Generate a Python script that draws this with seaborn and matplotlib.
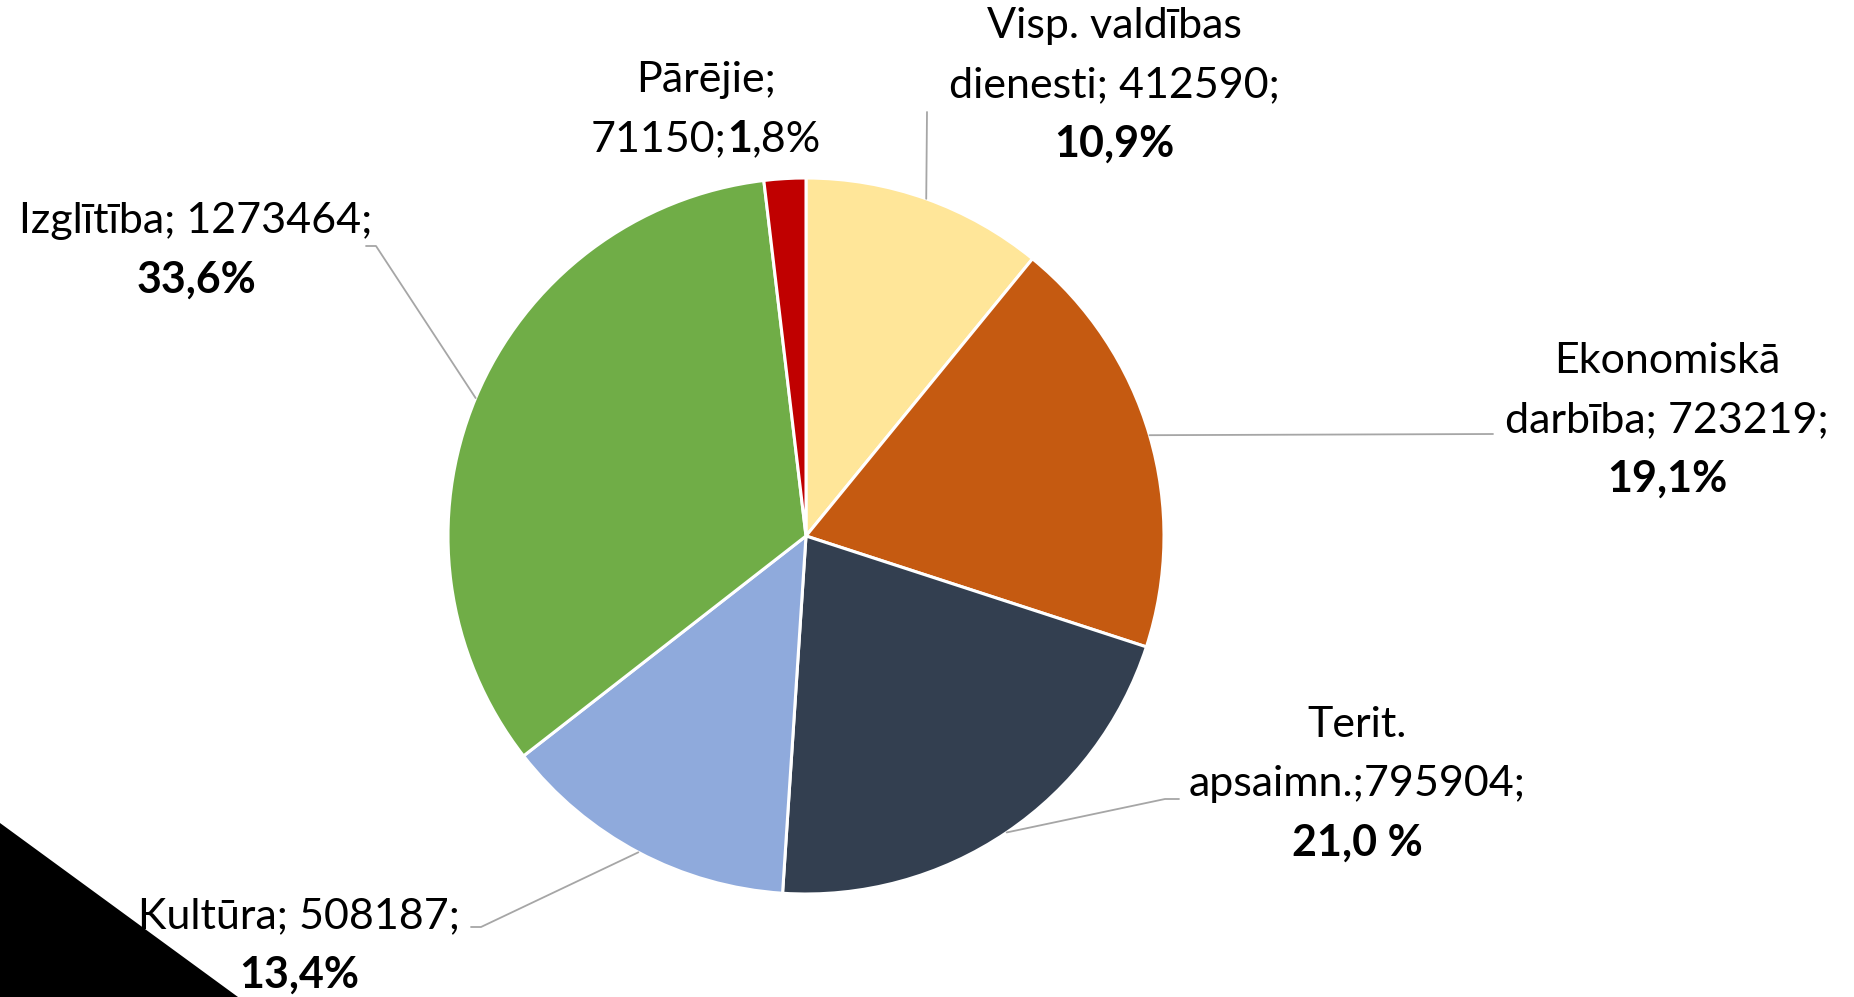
import numpy as np
import matplotlib
matplotlib.use("Agg")
import matplotlib.pyplot as plt
import seaborn as sns
from matplotlib.patches import Polygon

# data
categories = ["Visp. valdības dienesti", "Ekonomiskā darbība", "Terit. apsaimn.",
              "Kultūra", "Izglītība", "Pārējie"]
values = [412590, 723219, 795904, 508187, 1273464, 71150]
percent_labels = ["10,9%", "19,1%", "21,0 %", "13,4%", "33,6%", "1,8%"]
colors = ["#FFE699", "#C55A11", "#333F50", "#8FAADC", "#70AD47", "#C00000"]

# label text lines (normal lines, then bold percentage)
label_lines = [
    ["Visp. valdības", "dienesti; 412590;"],
    ["Ekonomiskā", "darbība; 723219;"],
    ["Terit.", "apsaimn.;795904;"],
    ["Kultūra; 508187;"],
    ["Izglītība; 1273464;"],
    ["Pārējie;"],
]

sns.set_theme(style="white")
plt.rcParams["font.family"] = ["Lato", "DejaVu Sans"]

W, H = 1854, 997
fig = plt.figure(figsize=(W / 100, H / 100), dpi=100)
ax = fig.add_axes([0, 0, 1, 1])

cx, cy, radius = 806, H - 536, 358
wedges, _ = ax.pie(values, colors=sns.color_palette(colors), startangle=90,
                   counterclock=False, radius=radius, center=(cx, cy),
                   wedgeprops=dict(edgecolor="white", linewidth=2.2))
ax.set_xlim(0, W)
ax.set_ylim(0, H)
ax.set_aspect("equal")
ax.axis("off")

# black corner triangle
ax.add_patch(Polygon([(0, H - 823), (0, 0), (238, 0)], closed=True,
                     facecolor="black", edgecolor="none", zorder=0))

fs = 31
step = 59
# label centre (x, first line y from top), leader line tail points
label_pos = [(1114, 26), (1667, 361), (1357, 725), (299, 916), (196, 221), (706, 80)]
leader_tail = [
    [(927, 112)],
    [(1493, 434)],
    [(1165, 799), (1179, 799)],
    [(481, 927), (471, 927)],
    [(376, 246), (366, 246)],
    None,
]

total = sum(values)
start = 90.0
renderer = fig.canvas.get_renderer()
for i, v in enumerate(values):
    sweep = v / total * 360
    mid = np.deg2rad(start - sweep / 2)
    start -= sweep

    x, y0 = label_pos[i]
    for j, line in enumerate(label_lines[i]):
        ax.text(x, H - (y0 + j * step), line, ha="center", va="center",
                fontsize=fs, color="black", zorder=5)
    yb = H - (y0 + len(label_lines[i]) * step)
    if categories[i] == "Pārējie":
        parts = [(f"{v};", "normal"), (percent_labels[i][0], "bold"),
                 (percent_labels[i][1:], "normal")]
        objs, widths = [], []
        for s, wgt in parts:
            t = ax.text(0, yb, s, ha="left", va="center", fontsize=fs,
                        fontweight=wgt, color="black", zorder=5)
            objs.append(t)
            widths.append(t.get_window_extent(renderer).width)
        xs = x - sum(widths) / 2
        for t, wd in zip(objs, widths):
            t.set_x(xs)
            xs += wd
    else:
        ax.text(x, yb, percent_labels[i], ha="center", va="center",
                fontsize=fs, fontweight="bold", color="black", zorder=5)

    if leader_tail[i] is not None:
        px = [cx + radius * np.cos(mid)] + [p[0] for p in leader_tail[i]]
        py = [cy + radius * np.sin(mid)] + [H - p[1] for p in leader_tail[i]]
        ax.plot(px, py, color="#A6A6A6", linewidth=1.3, zorder=4)

fig.savefig("out.png", dpi=100)
